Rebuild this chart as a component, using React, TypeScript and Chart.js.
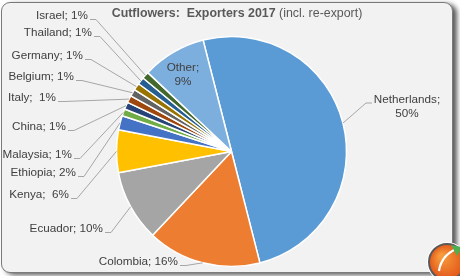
import React, { useEffect, useRef } from "react";
import { Chart, registerables } from "chart.js";

Chart.register(...registerables);

const categories = ["Netherlands", "Colombia", "Ecuador", "Kenya", "Ethiopia", "Malaysia", "China", "Italy", "Belgium", "Germany", "Thailand", "Israel", "Other"];
const values = [50, 16, 10, 6, 2, 1, 1, 1, 1, 1, 1, 1, 9];
const labelTexts = ["Netherlands;\n50%", "Colombia; 16%", "Ecuador; 10%", "Kenya;  6%", "Ethiopia; 2%", "Malaysia; 1%", "China; 1%", "Italy;  1%", "Belgium; 1%", "Germany; 1%", "Thailand; 1%", "Israel; 1%", "Other;\n9%"];
const colors = ["#5b9bd5", "#ed7d31", "#a5a5a5", "#ffc000", "#4472c4", "#70ad47", "#264478", "#9e480e", "#636363", "#997300", "#255e91", "#43682b", "#7cafdd"];
const titleBold = "Cutflowers:  Exporters 2017";
const titleNormal = " (incl. re-export)";

// label layout: x,y = anchor of text; mode: 'left' labels right-aligned, 'right' centered block, 'inside'
const labelLayout = [
  { x: 407, y: 100, mode: "right", ax: 372, ay: 103 },
  { x: 178, y: 262, mode: "left" },
  { x: 103, y: 229, mode: "left" },
  { x: 69, y: 195, mode: "left" },
  { x: 76, y: 173, mode: "left" },
  { x: 72, y: 155, mode: "left" },
  { x: 66, y: 127, mode: "left" },
  { x: 56, y: 98, mode: "left" },
  { x: 74, y: 77, mode: "left" },
  { x: 83, y: 56, mode: "left" },
  { x: 92, y: 33, mode: "left" },
  { x: 88, y: 16, mode: "left" },
  { x: 183, y: 68, mode: "inside" },
];

const FONT = '"Liberation Sans", Arial, sans-serif';

const labelPlugin = {
  id: "customLabels",
  afterDraw(chart: any) {
    const ctx = chart.ctx;
    const meta = chart.getDatasetMeta(0);
    ctx.save();
    // title
    ctx.textBaseline = "middle";
    ctx.fillStyle = "#595959";
    ctx.font = `bold 12.4px ${FONT}`;
    const wb = ctx.measureText(titleBold).width;
    ctx.font = `12.4px ${FONT}`;
    const wn = ctx.measureText(titleNormal).width;
    const tx = 237 - (wb + wn) / 2;
    ctx.textAlign = "left";
    ctx.font = `bold 12.4px ${FONT}`;
    ctx.fillText(titleBold, tx, 14);
    ctx.font = `12.4px ${FONT}`;
    ctx.fillText(titleNormal, tx + wb, 14);

    ctx.font = `11.7px ${FONT}`;
    meta.data.forEach((arc: any, i: number) => {
      const p = arc.getProps(["x", "y", "startAngle", "endAngle", "outerRadius"], true);
      const mid = (p.startAngle + p.endAngle) / 2;
      const ex = p.x + Math.cos(mid) * p.outerRadius;
      const ey = p.y + Math.sin(mid) * p.outerRadius;
      const L = labelLayout[i];
      const lines = labelTexts[i].split("\n");
      ctx.fillStyle = "#404040";
      if (L.mode === "left") {
        ctx.textAlign = "right";
        ctx.fillText(lines[0], L.x, L.y);
        ctx.strokeStyle = "#a6a6a6";
        ctx.lineWidth = 1;
        ctx.beginPath();
        ctx.moveTo(L.x + 2, L.y + 3.5);
        ctx.lineTo(L.x + 8, L.y + 3.5);
        ctx.lineTo(ex, ey);
        ctx.stroke();
      } else if (L.mode === "right") {
        ctx.textAlign = "center";
        lines.forEach((t: string, k: number) => ctx.fillText(t, L.x, L.y + k * 13.5));
        ctx.strokeStyle = "#a6a6a6";
        ctx.lineWidth = 1;
        ctx.beginPath();
        ctx.moveTo(L.ax, L.ay);
        ctx.lineTo(L.ax - 6, L.ay);
        ctx.lineTo(ex, ey);
        ctx.stroke();
      } else {
        ctx.textAlign = "center";
        lines.forEach((t: string, k: number) => ctx.fillText(t, L.x, L.y + k * 13.5));
      }
    });

    // logo
    const cx = 447, cy = 262, r = 18;
    ctx.beginPath();
    ctx.arc(cx, cy, r + 2, 0, Math.PI * 2);
    ctx.fillStyle = "#ffffff";
    ctx.fill();
    const g = ctx.createRadialGradient(cx - 6, cy - 6, 2, cx, cy, r);
    g.addColorStop(0, "#f79a3a");
    g.addColorStop(1, "#e2561a");
    ctx.beginPath();
    ctx.arc(cx, cy, r, 0, Math.PI * 2);
    ctx.fillStyle = g;
    ctx.fill();
    ctx.lineWidth = 2;
    ctx.strokeStyle = "#5a5a5a";
    ctx.stroke();
    ctx.beginPath();
    ctx.moveTo(cx - 8, cy + 9);
    ctx.quadraticCurveTo(cx - 6, cy - 6, cx + 9, cy - 13);
    ctx.lineWidth = 2.2;
    ctx.strokeStyle = "#ffffff";
    ctx.stroke();
    ctx.beginPath();
    ctx.moveTo(cx + 4, cy - 17);
    ctx.lineTo(cx + 15, cy - 15);
    ctx.lineTo(cx + 10, cy - 6);
    ctx.closePath();
    ctx.fillStyle = "#4caf50";
    ctx.fill();
    ctx.restore();
  },
};

export default function App() {
  const ref = useRef<HTMLCanvasElement | null>(null);
  useEffect(() => {
    if (!ref.current) return;
    const chart = new Chart(ref.current, {
      type: "pie",
      data: {
        labels: categories,
        datasets: [
          {
            data: values,
            backgroundColor: colors,
            borderColor: "#ffffff",
            borderWidth: 1.5,
          },
        ],
      },
      options: {
        responsive: false,
        animation: false,
        rotation: -14.3,
        layout: { padding: { top: 35.75, bottom: 8.75, left: 115.75, right: 112.75 } },
        plugins: { legend: { display: false }, tooltip: { enabled: false }, title: { display: false } },
      },
      plugins: [labelPlugin],
    });
    return () => chart.destroy();
  }, []);
  return (
    <div style={{ position: "absolute", left: 0, top: 0, width: 460, height: 276, background: "#ffffff", overflow: "hidden" }}>
      <div
        style={{
          position: "absolute",
          left: 1,
          top: 2,
          width: 450,
          height: 269,
          background: "#f2f2f2",
          border: "1px solid #7a7a7a",
          borderRadius: 9,
          boxShadow: "4px 2px 5px rgba(0,0,0,0.65)",
        }}
      />
      <canvas ref={ref} width={460} height={276} style={{ position: "absolute", left: 0, top: 0, width: 460, height: 276 }} />
    </div>
  );
}
